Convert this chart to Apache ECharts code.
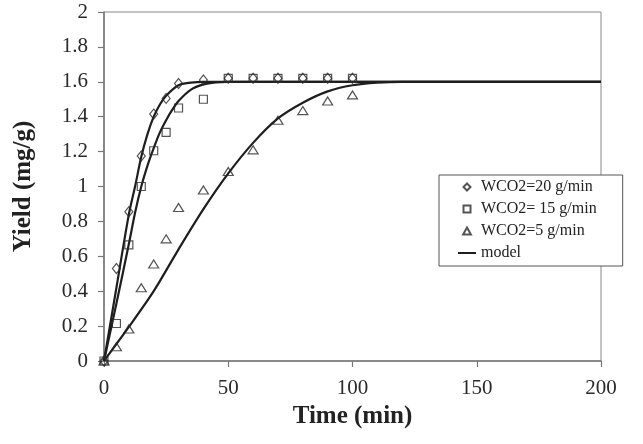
<!DOCTYPE html>
<html>
<head>
<meta charset="utf-8">
<script src="https://cdn.jsdelivr.net/npm/echarts@6/dist/echarts.min.js"></script>
<style>
html,body{margin:0;padding:0;background:#fff;}
#chart{width:643px;height:444px;}
</style>
</head>
<body>
<div id="chart"></div>
<script>
// Measured data (time in min, yield in mg/g)
const time = [0, 5, 10, 15, 20, 25, 30, 40, 50, 60, 70, 80, 90, 100];
const w20 = [0, 0.53, 0.855, 1.175, 1.415, 1.505, 1.59, 1.61, 1.62, 1.62, 1.62, 1.62, 1.62, 1.62];
const w15 = [0, 0.215, 0.665, 1.0, 1.205, 1.31, 1.45, 1.50, 1.62, 1.62, 1.62, 1.62, 1.62, 1.62];
const w5  = [0, 0.082, 0.183, 0.42, 0.556, 0.70, 0.88, 0.98, 1.086, 1.21, 1.38, 1.435, 1.49, 1.525];

// Model curves
const modelTime20 = [0, 5, 10, 12.5, 15, 17.5, 20, 22.5, 25, 30, 35, 40, 50, 200];
const model20     = [0, 0.42, 0.84, 1.0, 1.17, 1.30, 1.40, 1.47, 1.52, 1.58, 1.595, 1.60, 1.60, 1.60];
const modelTime15 = [0, 5, 10, 12.5, 15, 17.5, 20, 22.5, 25, 27.5, 30, 35, 40, 45, 50, 200];
const model15     = [0, 0.33, 0.67, 0.85, 1.0, 1.12, 1.22, 1.31, 1.38, 1.44, 1.49, 1.555, 1.585, 1.597, 1.60, 1.60];
const modelTime5  = [0, 10, 20, 30, 40, 50, 60, 70, 80, 90, 100, 110, 120, 200];
const model5      = [0, 0.195, 0.40, 0.64, 0.87, 1.075, 1.25, 1.39, 1.48, 1.545, 1.58, 1.595, 1.60, 1.60];

const xTicks = { min: 0, max: 200, interval: 50 };
const yTicks = { min: 0, max: 2, interval: 0.2 };

const names = ['WCO2=20 g/min', 'WCO2= 15 g/min', 'WCO2=5 g/min', 'model'];

const pairs = (xs, ys) => xs.map((x, i) => [x, ys[i]]);
const SERIF = '"Liberation Serif", "Times New Roman", serif';

const markerStyle = { color: 'rgba(255,255,255,0)', borderColor: '#2a2a2a', borderWidth: 1.2 };
const lineStyle = { color: '#1e1e1e', width: 2.2 };

const chart = echarts.init(document.getElementById('chart'), null, { renderer: 'canvas' });
chart.setOption({
  animation: false,
  backgroundColor: '#fff',
  grid: { left: 104, right: 42, top: 12, bottom: 83, show: true, borderColor: '#888', borderWidth: 1 },
  xAxis: {
    type: 'value', min: xTicks.min, max: xTicks.max, interval: xTicks.interval,
    name: 'Time (min)', nameLocation: 'middle', nameGap: 40,
    nameTextStyle: { fontFamily: SERIF, fontWeight: 'bold', fontSize: 25, color: '#222' },
    axisLine: { show: true, lineStyle: { color: '#777', width: 1.5 } },
    axisTick: { show: true, length: 6, lineStyle: { color: '#777', width: 1.2 } },
    axisLabel: { fontFamily: SERIF, fontSize: 21, color: '#2a2a2a', margin: 17 },
    splitLine: { show: false }
  },
  yAxis: {
    type: 'value', min: yTicks.min, max: yTicks.max, interval: yTicks.interval,
    name: 'Yield (mg/g)', nameLocation: 'middle', nameGap: 68, nameRotate: 90,
    nameTextStyle: { fontFamily: SERIF, fontWeight: 'bold', fontSize: 25, color: '#222' },
    axisLine: { show: true, lineStyle: { color: '#777', width: 1.5 } },
    axisTick: { show: true, length: 6, lineStyle: { color: '#777', width: 1.2 } },
    axisLabel: { fontFamily: SERIF, fontSize: 21, color: '#2a2a2a', margin: 16 },
    splitLine: { show: false }
  },
  legend: {
    orient: 'vertical', left: 439, top: 175,
    data: [
      { name: names[0], icon: 'path://M5,0L10,5L5,10L0,5Z' },
      { name: names[1], icon: 'path://M0,0L10,0L10,10L0,10Z' },
      { name: names[2], icon: 'path://M5,0L10,9L0,9Z' },
      { name: names[3], icon: 'path://M0,0L20,0L20,2.2L0,2.2Z' }
    ],
    itemWidth: 18, itemHeight: 7, itemGap: 6,
    symbolKeepAspect: true,
    padding: [4, 26, 5, 19],
    borderColor: '#555', borderWidth: 1, backgroundColor: '#fff',
    textStyle: { fontFamily: SERIF, fontSize: 16, color: '#222', lineHeight: 16 },
    z: 10
  },
  series: [
    { name: 'model', type: 'line', data: pairs(modelTime20, model20), symbol: 'none', smooth: 0.3, lineStyle: lineStyle, itemStyle: { color: '#1e1e1e' }, z: 2 },
    { name: 'model', type: 'line', data: pairs(modelTime15, model15), symbol: 'none', smooth: 0.3, lineStyle: lineStyle, itemStyle: { color: '#1e1e1e' }, z: 2 },
    { name: 'model', type: 'line', data: pairs(modelTime5, model5), symbol: 'none', smooth: 0.3, lineStyle: lineStyle, itemStyle: { color: '#1e1e1e' }, z: 2 },
    { name: names[0], type: 'scatter', data: pairs(time, w20), symbol: 'diamond', symbolSize: [8, 10], itemStyle: markerStyle, z: 3 },
    { name: names[1], type: 'scatter', data: pairs(time, w15), symbol: 'rect', symbolSize: 8, itemStyle: markerStyle, z: 3 },
    { name: names[2], type: 'scatter', data: pairs(time, w5), symbol: 'triangle', symbolSize: [10, 8], itemStyle: markerStyle, z: 3 }
  ]
});
</script>
</body>
</html>
